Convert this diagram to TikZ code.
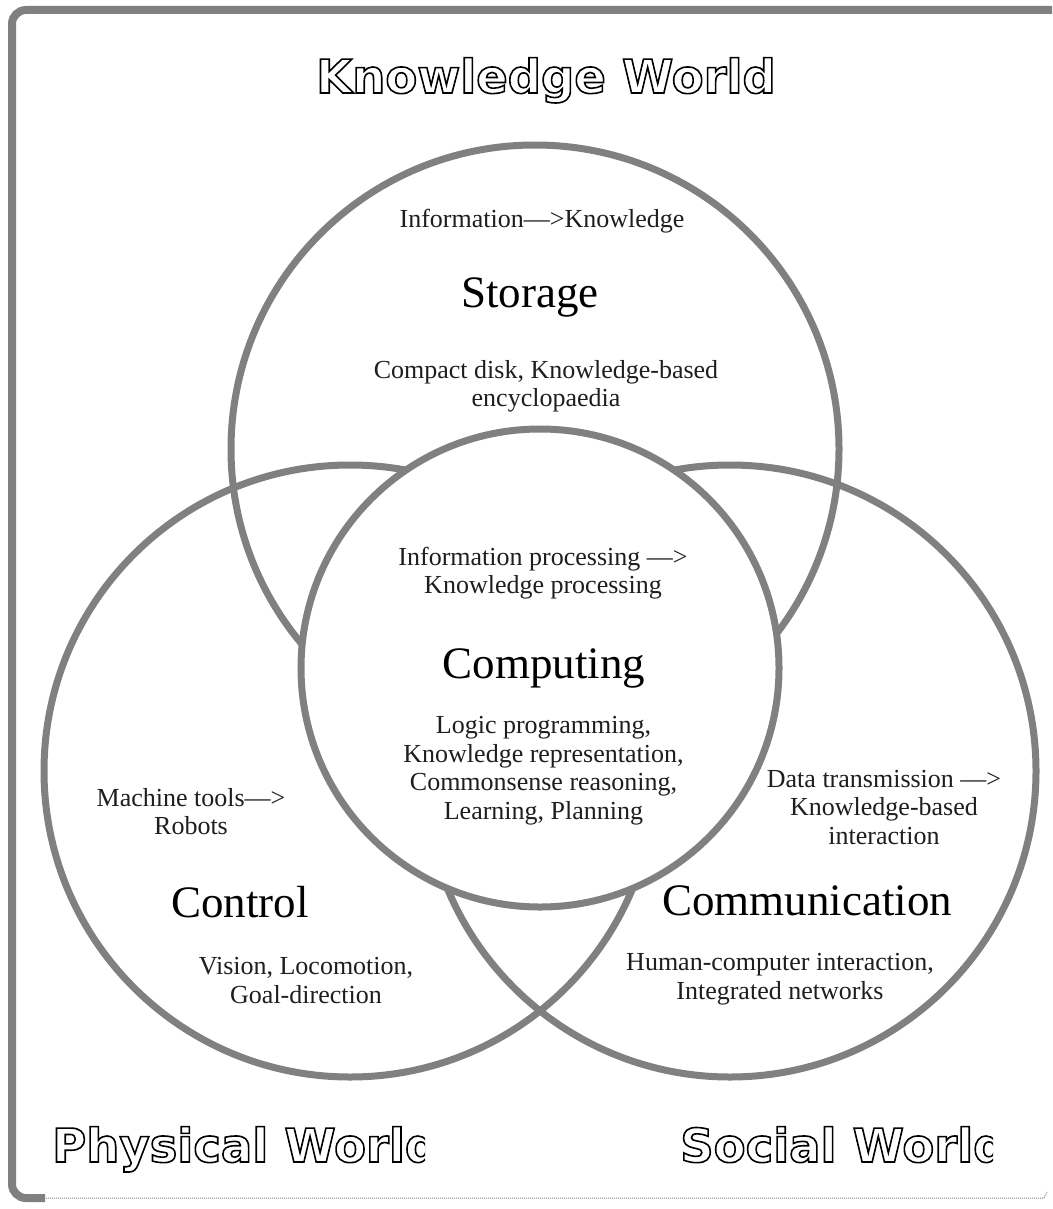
\documentclass[tikz,border=0pt]{standalone}
\usepackage{fontspec}
\setmainfont{Liberation Serif}
\newfontfamily\titlefont{DejaVu Sans}
\definecolor{ringgray}{RGB}{128,128,128}
\definecolor{txt}{RGB}{30,30,30}
\newcommand{\outlineon}{\special{pdf:literal direct 1 Tr 1.6 w}}
\newcommand{\outlineoff}{\special{pdf:literal direct 0 Tr}}
\begin{document}
\begin{tikzpicture}[x=1pt,y=-1pt,
  ring/.style={draw=ringgray, line width=7pt},
  frame/.style={draw=ringgray, line width=8pt, rounded corners=14pt},
  thinframe/.style={draw=ringgray, line width=1pt, densely dotted},
  small/.style={font=\fontsize{26}{28.5}\selectfont, align=center, inner sep=0pt, text=txt},
  big/.style={font=\fontsize{45}{50}\selectfont, inner sep=0pt, anchor=base, text=black},
  worldtitle/.style={font=\titlefont\bfseries\fontsize{46.5}{50}\selectfont, inner sep=0pt, text=black}]
\useasboundingbox (0,0) rectangle (1052,1209);
\fill[white] (0,0) rectangle (1052,1209);

% frame
\draw[frame] (1052,10) -- (12,10) -- (12,1198) -- (45,1198);
\draw[thinframe] (40,1198) -- (1044,1198) -- (1047,1192);

% circles
\draw[ring] (535,449) circle[radius=304pt];
\draw[ring] (350,771) circle[radius=306pt];
\draw[ring] (730,771) circle[radius=306pt];
\draw[ring, fill=white] (540,668) circle[radius=239pt];

% storage texts
\node[small, anchor=base] (infok) at (542,227) {Information—>Knowledge};
\node[big] (storage) at (530,307) {Storage};
\node[small] (storex) at (546,386.5) {Compact disk, Knowledge-based\\encyclopaedia};

% computing texts
\node[small] (infop) at (543,573) {Information processing —>\\Knowledge processing};
\node[big] (computing) at (544,678) {Computing};
\node[small] (compex) at (543.5,770.5) {Logic programming,\\Knowledge representation,\\Commonsense reasoning,\\Learning, Planning};

% control texts
\node[small] (machine) at (191,811.5) {Machine tools—>\\Robots};
\node[big] (control) at (240,917) {Control};
\node[small] (contex) at (306,980.5) {Vision, Locomotion,\\Goal-direction};

% communication texts
\node[small] (data) at (884,807.5) {Data transmission —>\\Knowledge-based\\interaction};
\node[big] (communication) at (807,915) {Communication};
\node[small] (commex) at (780,979) {Human-computer interaction,\\Integrated networks};

% world titles
\begin{scope}
\node[worldtitle, anchor=base] (knowworld) at (546,93) {\outlineon Knowledge World\outlineoff};
\end{scope}
\begin{scope}
\clip (30,1100) rectangle (425,1190);
\node[worldtitle, anchor=base west] (physworld) at (52,1162) {\outlineon Physical World\outlineoff};
\end{scope}
\begin{scope}
\clip (660,1100) rectangle (993,1190);
\node[worldtitle, anchor=base west] (socworld) at (680,1162) {\outlineon Social World\outlineoff};
\end{scope}
\end{tikzpicture}
\end{document}
